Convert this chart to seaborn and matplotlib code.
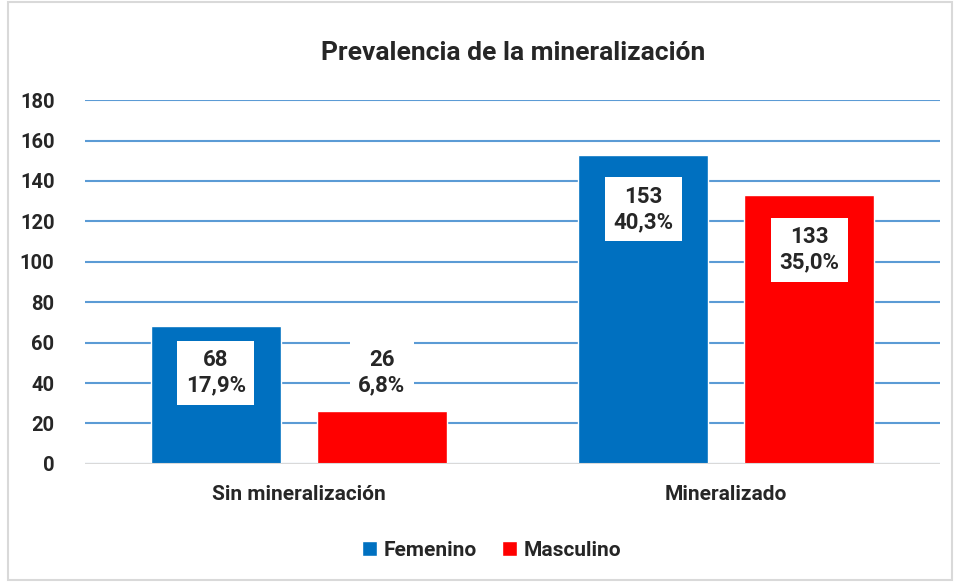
import pandas as pd
import matplotlib.pyplot as plt
import matplotlib.patches as mpatches
import seaborn as sns

# data
categorias = ["Sin mineralización", "Mineralizado"]
sexos = ["Femenino", "Masculino"]
femenino = [68, 153]
masculino = [26, 133]
pct_femenino = ["17,9%", "40,3%"]
pct_masculino = ["6,8%", "35,0%"]
yticks = list(range(0, 181, 20))

df = pd.DataFrame({
    "Categoria": categorias * 2,
    "Sexo": [sexos[0]] * 2 + [sexos[1]] * 2,
    "Valor": femenino + masculino,
    "Pct": pct_femenino + pct_masculino,
})

sns.set_style("white")
plt.rcParams["font.family"] = ["Roboto", "Liberation Sans", "DejaVu Sans"]

fig = plt.figure(figsize=(9.56, 5.82), dpi=100)
ax = fig.add_axes([0.089, 0.203, 0.894, 0.625])

sns.barplot(data=df, x="Categoria", y="Valor", hue="Sexo", order=categorias,
            hue_order=sexos, palette=["#0070C0", "#FF0000"],
            width=0.777, gap=0.216, saturation=1, ax=ax, legend=True)

ax.set_ylim(0, 180)
ax.set_yticks(yticks)
ax.set_xlim(-0.5, 1.5)
ax.grid(axis="y", color="#5B9BD5", linewidth=1.5)
ax.set_axisbelow(True)
ax.axhline(0, color="#D9D9D9", linewidth=1.5, zorder=1)
for s in ax.spines.values():
    s.set_visible(False)
ax.tick_params(axis="y", length=0, labelsize=14.5, pad=22)
ax.tick_params(axis="x", length=0, labelsize=15, pad=15)
for lab in ax.get_xticklabels() + ax.get_yticklabels():
    lab.set_fontweight("bold")
ax.set_xlabel("")
ax.set_ylabel("")

# labels in white boxes
for cont, sexo in zip(ax.containers, sexos):
    sub = df[df["Sexo"] == sexo].set_index("Categoria").loc[categorias]
    for bar, v, p in zip(cont, sub["Valor"], sub["Pct"]):
        xc = bar.get_x() + bar.get_width() / 2
        yc = max(v - 27, 45)
        ax.text(xc, yc, f"{v}\n{p}", ha="center", va="center", fontsize=16,
                fontweight="bold", linespacing=1.2,
                bbox=dict(facecolor="white", edgecolor="none", pad=6))

ax.legend(loc="upper center", bbox_to_anchor=(0.476, -0.16), ncol=2, frameon=False,
          prop={"size": 15, "weight": "bold"}, handlelength=0.7, handleheight=0.7,
          handletextpad=0.35, columnspacing=1.2)

fig.suptitle("Prevalencia de la mineralización", y=0.93, x=0.537,
             fontsize=19, fontweight="bold")

fig.patches.append(mpatches.Rectangle((0.008, 0.003), 0.988, 0.994, transform=fig.transFigure,
                                      fill=False, edgecolor="#D9D9D9", linewidth=1.5))

fig.savefig("out.png", dpi=100)
